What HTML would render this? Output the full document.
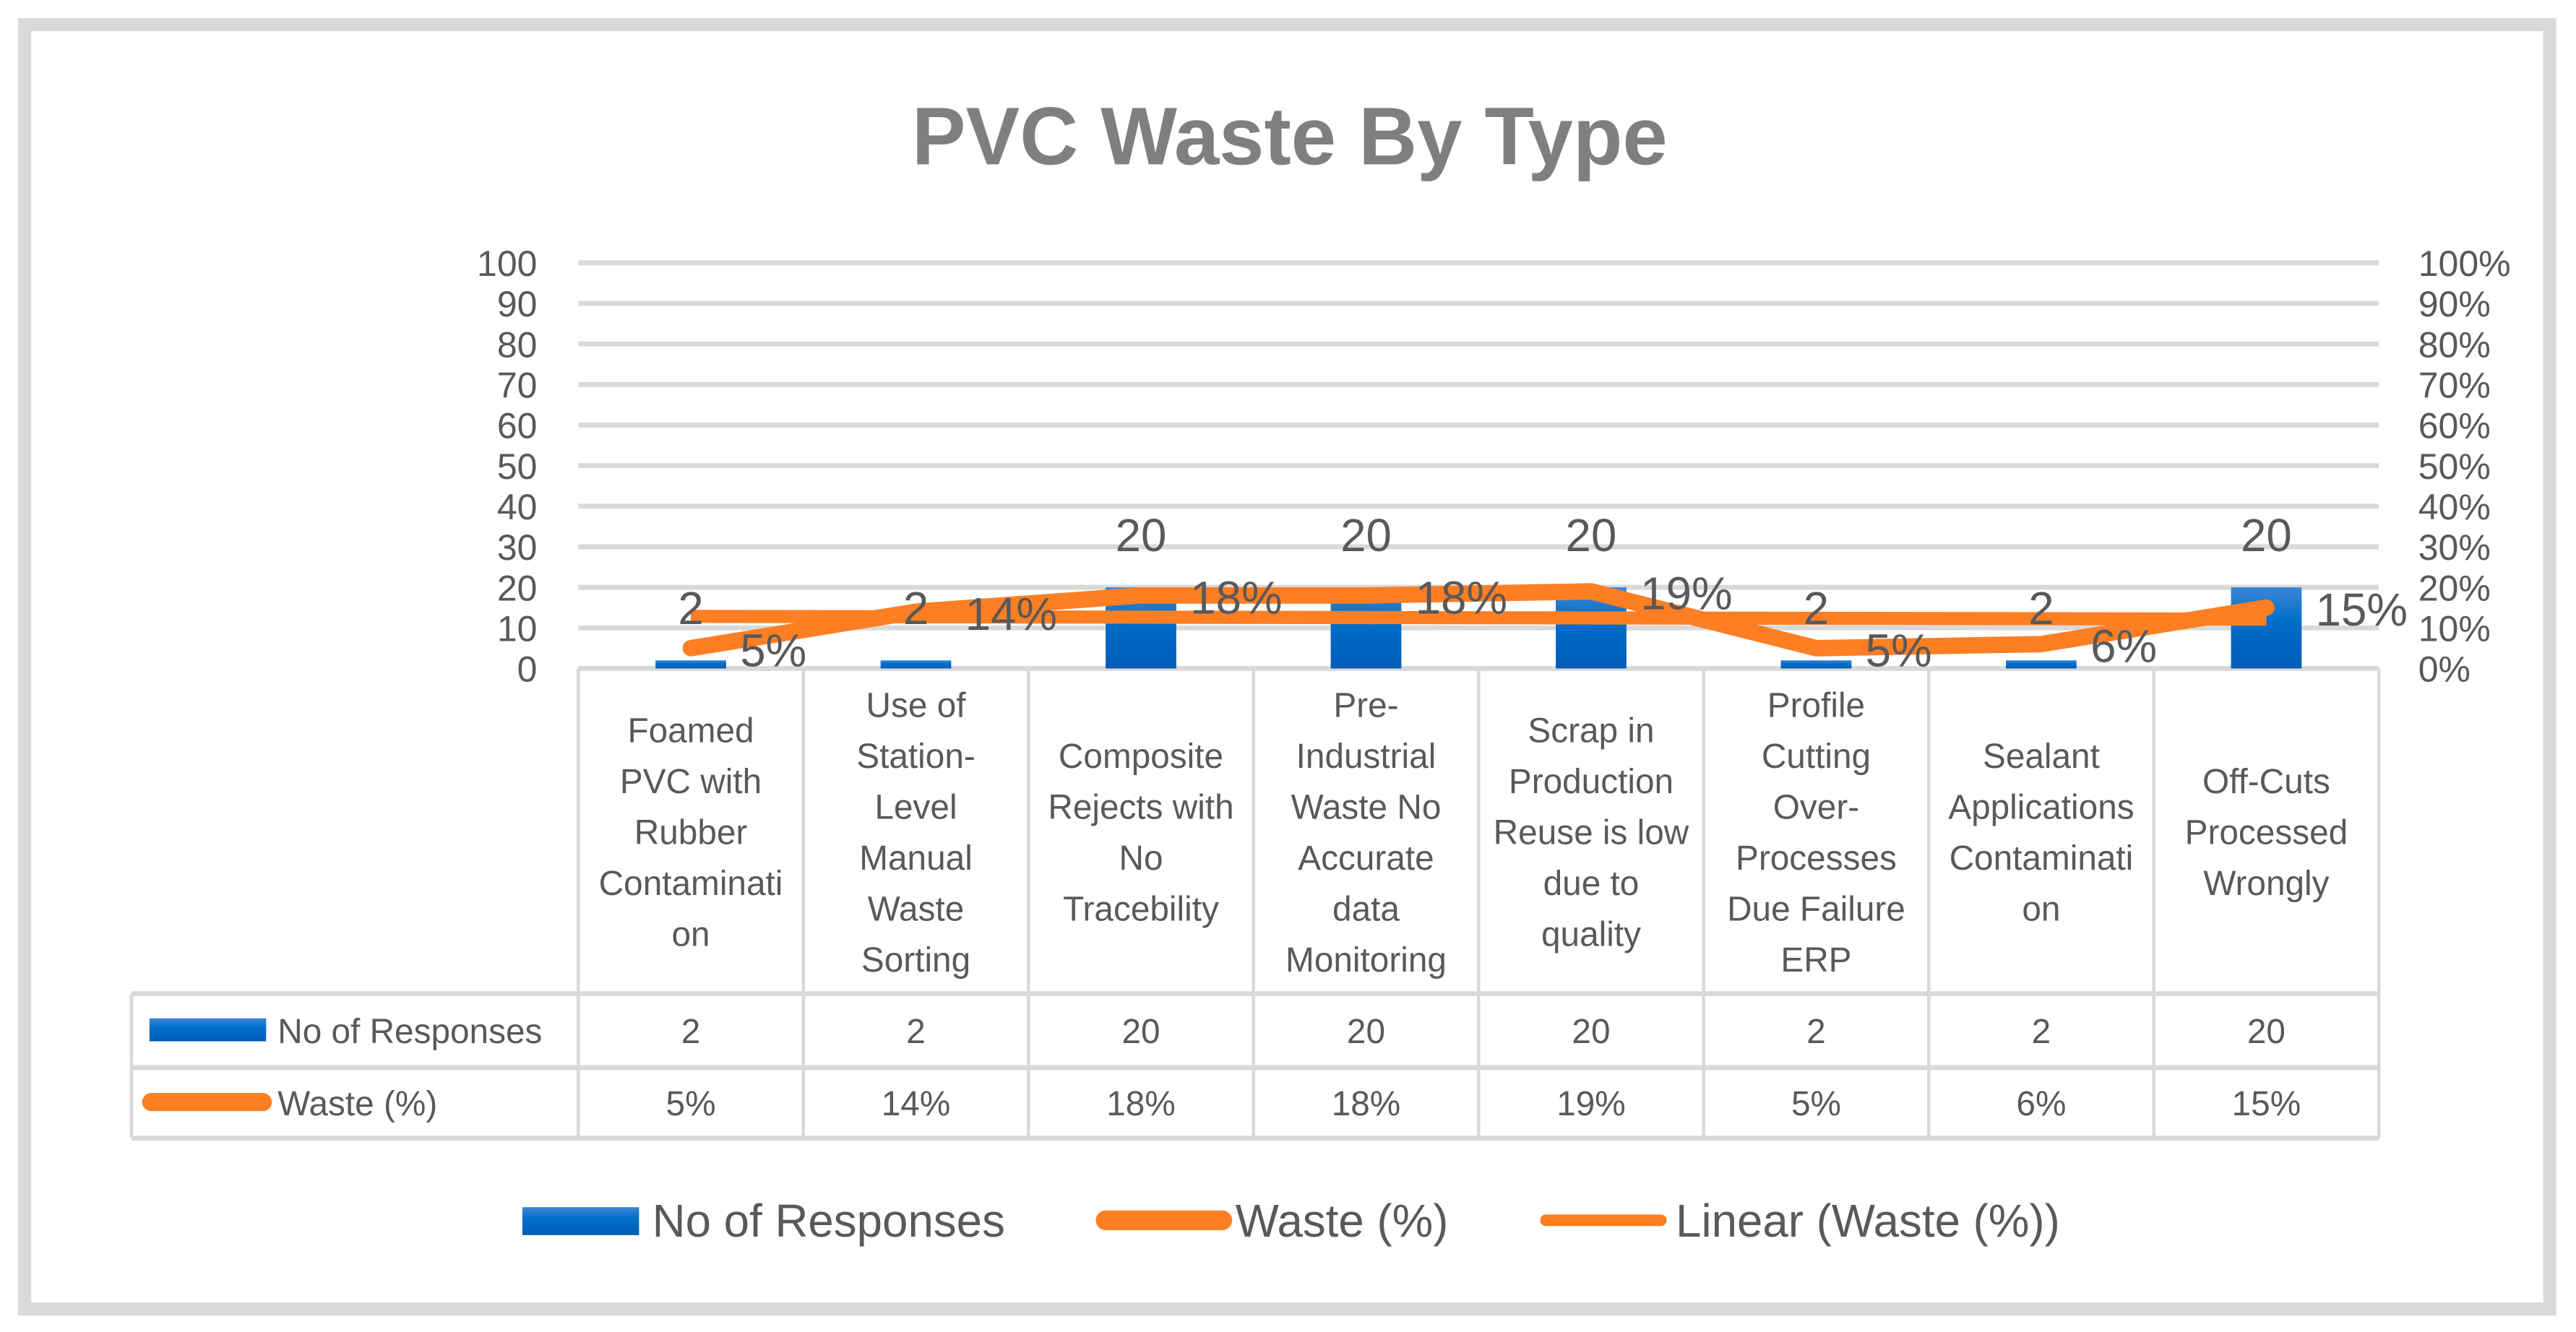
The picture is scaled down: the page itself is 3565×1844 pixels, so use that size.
<!DOCTYPE html>
<html><head><meta charset="utf-8"><style>
html,body{margin:0;padding:0;background:#fff;}
svg{display:block;font-family:"Liberation Sans",sans-serif;}
</style></head><body>
<svg id="chart" width="3565" height="1844" viewBox="0 0 1568 811" preserveAspectRatio="none">
<defs>
<linearGradient id="bg" x1="0" y1="0" x2="0" y2="1"><stop offset="0" stop-color="#3f86d6"/><stop offset="0.4" stop-color="#0070c9"/><stop offset="1" stop-color="#005cb8"/></linearGradient>
</defs>
<rect x="15" y="15" width="1537" height="782" fill="#fff" stroke="#d9d9d9" stroke-width="8"/>
<text x="785" y="100" text-anchor="middle" font-size="50" font-weight="bold" fill="#7f7f7f" textLength="460" lengthAdjust="spacingAndGlyphs">PVC Waste By Type</text>
<g id="grid"></g><g id="table"></g><g id="marks"></g><g id="labels"></g><g id="legend"></g>
</svg>
<script>
const categories=[["Foamed","PVC with","Rubber","Contaminati","on"],["Use of","Station-","Level","Manual","Waste","Sorting"],["Composite","Rejects with","No","Tracebility"],["Pre-","Industrial","Waste No","Accurate","data","Monitoring"],["Scrap in","Production","Reuse is low","due to","quality"],["Profile","Cutting","Over-","Processes","Due Failure","ERP"],["Sealant","Applications","Contaminati","on"],["Off-Cuts","Processed","Wrongly"]];
const responses=[2,2,20,20,20,2,2,20];
const wastePct=[5,14,18,18,19,5,6,15];
const leftTicks=[0,10,20,30,40,50,60,70,80,90,100];
const rightTicks=["0%","10%","20%","30%","40%","50%","60%","70%","80%","90%","100%"];
const NS="http://www.w3.org/2000/svg";
const X0=352,X1=1448,Y0=407,Y1=160;
const cw=(X1-X0)/categories.length;
const xc=i=>X0+cw*(i+0.5);
const yv=v=>Y0-(v/100)*(Y0-Y1);
function mk(tag,attrs,parent,txt){const e=document.createElementNS(NS,tag);for(const k in attrs)e.setAttribute(k,attrs[k]);if(txt!==undefined)e.textContent=txt;parent.appendChild(e);return e;}
const G=document.getElementById('grid'),T=document.getElementById('table'),M=document.getElementById('marks'),L=document.getElementById('labels'),LG=document.getElementById('legend');
const gray='#d9d9d9',tc='#595959';
leftTicks.forEach((t,i)=>{
  const y=yv(t);
  let e=mk('line',{x1:X0,x2:X1,y1:y,y2:y,stroke:gray,'stroke-width':3},G);
  
  e=mk('text',{x:327,y:y+8,'text-anchor':'end','font-size':22,fill:tc},G,String(t));
  
  e=mk('text',{x:1472,y:y+8,'font-size':22,fill:tc},G,rightTicks[i]);
  
});
const rows=[407,605,650,693];
rows.slice(1).forEach(y=>{const e=mk('line',{x1:80,x2:X1,y1:y,y2:y,stroke:gray,'stroke-width':3},T);});
for(let i=0;i<=categories.length;i++){const x=X0+cw*i;const e=mk('line',{x1:x,x2:x,y1:407,y2:693,stroke:gray,'stroke-width':2},T);}
let e0=mk('line',{x1:80,x2:80,y1:605,y2:693,stroke:gray,'stroke-width':2},T);
categories.forEach((c,i)=>{
  const lh=31,start=506-(c.length-1)*lh/2+8;
  const t=mk('text',{x:xc(i),'text-anchor':'middle','font-size':21,fill:tc},T);
  
  c.forEach((ln,j)=>mk('tspan',{x:xc(i),y:start+j*lh},t,ln));
  let e=mk('text',{x:xc(i),y:635,'text-anchor':'middle','font-size':21,fill:tc},T,String(responses[i]));
  
  e=mk('text',{x:xc(i),y:679,'text-anchor':'middle','font-size':21,fill:tc},T,wastePct[i]+'%');
  
});
let r=mk('rect',{x:91,y:620,width:71,height:14,fill:'url(#bg)'},T);
r=mk('text',{x:169,y:635,'font-size':21,fill:tc},T,'No of Responses');
r=mk('line',{x1:92,x2:160,y1:671,y2:671,stroke:'#fd7e23','stroke-width':11,'stroke-linecap':'round'},T);
r=mk('text',{x:169,y:679,'font-size':21,fill:tc},T,'Waste (%)');
responses.forEach((v,i)=>{
  const bw=43;const b=mk('rect',{x:xc(i)-bw/2,y:yv(v),width:bw,height:Y0-yv(v),fill:'url(#bg)'},M);
  
  const t=mk('text',{x:xc(i),y:yv(v)-22,'text-anchor':'middle','font-size':28,fill:tc},L,String(v));
  
});
const n=wastePct.length,mx=(n-1)/2,my=wastePct.reduce((a,b)=>a+b,0)/n;
let sxy=0,sxx=0;wastePct.forEach((v,i)=>{sxy+=(i-mx)*(v-my);sxx+=(i-mx)*(i-mx);});
const sl=sxy/sxx,ic=my-sl*mx;
let tl=mk('line',{x1:xc(0),x2:xc(n-1),y1:yv(ic),y2:yv(ic+sl*(n-1)),stroke:'#fd7e23','stroke-width':8},M);

const pts=wastePct.map((v,i)=>xc(i)+','+yv(v)).join(' ');
let pl=mk('polyline',{points:pts,fill:'none',stroke:'#fd7e23','stroke-width':10,'stroke-linejoin':'round','stroke-linecap':'round'},M);

wastePct.forEach((v,i)=>{
  const t=mk('text',{x:xc(i)+30,y:yv(v)+11,'font-size':28,fill:tc},L,v+'%');
  
});
let g=mk('rect',{x:318,y:735,width:71,height:17,fill:'url(#bg)'},LG);
g=mk('text',{x:397,y:753,'font-size':28,fill:tc},LG,'No of Responses');
g=mk('line',{x1:673,x2:744,y1:743,y2:743,stroke:'#fd7e23','stroke-width':12,'stroke-linecap':'round'},LG);
g=mk('text',{x:752,y:753,'font-size':28,fill:tc},LG,'Waste (%)');
g=mk('line',{x1:941,x2:1011,y1:743,y2:743,stroke:'#fd7e23','stroke-width':7,'stroke-linecap':'round'},LG);
g=mk('text',{x:1020,y:753,'font-size':28,fill:tc},LG,'Linear (Waste (%))');
</script>
</body></html>
